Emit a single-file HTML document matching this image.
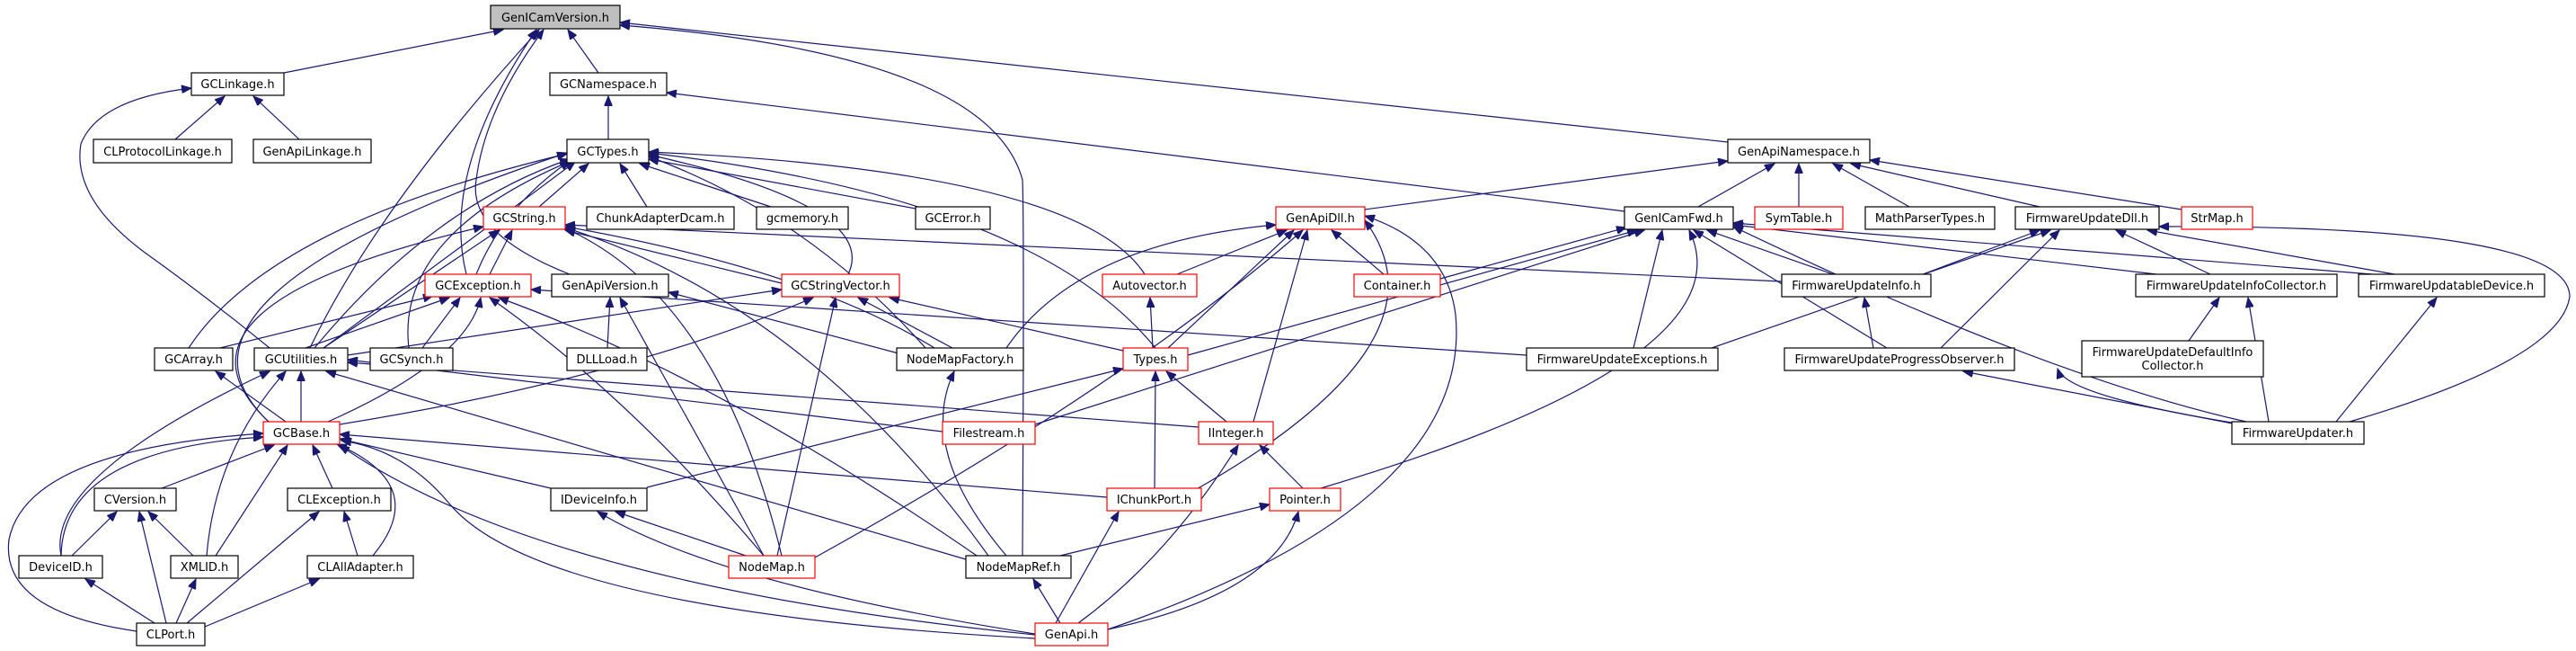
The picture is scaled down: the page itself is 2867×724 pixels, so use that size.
<!DOCTYPE html>
<html><head><meta charset="utf-8"><style>
html,body{margin:0;padding:0;background:#fff;}
svg{display:block;}
text{font-family:"DejaVu Sans","Liberation Sans",sans-serif;font-size:13px;fill:#000;text-anchor:middle;}
.n{fill:#fff;stroke:#000;stroke-width:1.2;}
.r{fill:#fff;stroke:#ff0000;stroke-width:1.2;}
.e{fill:none;stroke:#191970;stroke-width:1.2;marker-end:url(#a);}
</style></head><body>
<svg width="2867" height="724" viewBox="0 0 2867 724" xmlns="http://www.w3.org/2000/svg">
<defs><marker id="a" markerUnits="userSpaceOnUse" markerWidth="12" markerHeight="9" refX="11" refY="4.5" orient="auto"><path d="M0,0 L11,4.5 L0,9 z" fill="#191970" stroke="#191970"/></marker></defs>
<g>
<!-- edges to GenICamVersion -->
<path class="e" d="M316,81 L560,33"/>
<path class="e" d="M666,81 L632,33"/>
<path class="e" d="M345,387 Q420,230 600,33"/>
<path class="e" d="M519,305 Q490,190 597,33"/>
<path class="e" d="M634,305 Q520,260 530,200 Q540,120 605,33"/>
<path class="e" d="M1138,618 Q1140,250 1138,200 Q1100,60 690,28"/>
<path class="e" d="M1923,158 L690,25"/>
<!-- GCNamespace / GCLinkage -->
<path class="e" d="M677,155 L677,107"/>
<path class="e" d="M1808,235 L742,103"/>
<path class="e" d="M195,155 L250,107"/>
<path class="e" d="M333,155 L282,107"/>
<path class="e" d="M300,387 Q230,330 160,280 Q80,220 90,160 Q110,110 213,98"/>
<!-- GCTypes -->
<path class="e" d="M600,230 L655,182"/>
<path class="e" d="M720,230 L690,182"/>
<path class="e" d="M858,230 L712,182"/>
<path class="e" d="M1019,232 L722,177"/>
<path class="e" d="M944,305 Q980,230 722,172"/>
<path class="e" d="M1274,305 Q1200,190 722,169"/>
<path class="e" d="M1286,387 Q1150,220 722,170"/>
<path class="e" d="M1030,387 Q900,240 722,174"/>
<path class="e" d="M210,387 Q300,250 631,171"/>
<path class="e" d="M300,470 Q150,330 631,170"/>
<path class="e" d="M455,387 Q440,260 640,177"/>
<path class="e" d="M530,305 Q560,230 634,179"/>
<path class="e" d="M350,387 Q480,230 634,177"/>
<path class="e" d="M360,387 Q560,240 640,180"/>
<!-- GenApiNamespace -->
<path class="e" d="M1519,233 L1923,179"/>
<path class="e" d="M1890,230 L1975,182"/>
<path class="e" d="M2002,230 L2002,182"/>
<path class="e" d="M2125,230 L2040,182"/>
<path class="e" d="M2270,230 L2060,182"/>
<path class="e" d="M2428,233 L2081,178"/>
<!-- GCString -->
<path class="e" d="M545,305 L570,256"/>
<path class="e" d="M360,387 L555,256"/>
<path class="e" d="M300,470 Q160,340 538,252"/>
<path class="e" d="M870,315 L629,256"/>
<path class="e" d="M870,618 Q800,330 629,254"/>
<path class="e" d="M1100,618 Q900,340 629,253"/>
<path class="e" d="M1040,387 Q900,300 629,252"/>
<path class="e" d="M1983,313 L629,250"/>
<!-- GCException -->
<path class="e" d="M340,387 L500,331"/>
<path class="e" d="M245,387 L482,329"/>
<path class="e" d="M470,387 L512,331"/>
<path class="e" d="M365,469 Q520,400 535,331"/>
<path class="e" d="M850,618 Q700,440 545,331"/>
<path class="e" d="M1090,620 Q800,420 555,331"/>
<path class="e" d="M1699,395 L591,322"/>
<!-- GenApiVersion -->
<path class="e" d="M676,387 L679,331"/>
<path class="e" d="M850,618 L690,331"/>
<path class="e" d="M1000,393 L744,325"/>
<!-- GCStringVector -->
<path class="e" d="M387,395 L870,322"/>
<path class="e" d="M378,472 Q700,420 905,331"/>
<path class="e" d="M865,618 L930,331"/>
<path class="e" d="M1060,387 L955,331"/>
<path class="e" d="M1250,390 L990,331"/>
<!-- Autovector / GenApiDll -->
<path class="e" d="M1283,387 L1280,331"/>
<path class="e" d="M1310,305 L1432,256"/>
<path class="e" d="M1120,387 Q1200,270 1420,250"/>
<path class="e" d="M1300,387 L1440,256"/>
<path class="e" d="M1540,305 L1482,256"/>
<path class="e" d="M1395,469 L1455,256"/>
<path class="e" d="M907,620 Q1250,430 1450,256"/>
<path class="e" d="M1330,545 Q1620,380 1519,245"/>
<path class="e" d="M1233,700 Q1640,560 1620,350 Q1610,270 1519,240"/>
<!-- GenICamFwd -->
<path class="e" d="M1322,395 L1822,256"/>
<path class="e" d="M1152,472 L1830,256"/>
<path class="e" d="M1603,310 L1810,253"/>
<path class="e" d="M1818,387 L1850,256"/>
<path class="e" d="M2040,305 L1900,256"/>
<path class="e" d="M2100,387 L1885,256"/>
<path class="e" d="M1470,543 Q1950,400 1880,256"/>
<path class="e" d="M2400,305 L1929,250"/>
<path class="e" d="M2640,305 L1929,248"/>
<path class="e" d="M2500,469 Q2280,420 1929,252"/>
<!-- FirmwareUpdateDll -->
<path class="e" d="M2140,305 L2270,256"/>
<path class="e" d="M2160,387 L2292,256"/>
<path class="e" d="M1905,387 L2282,256"/>
<path class="e" d="M2460,305 L2355,256"/>
<path class="e" d="M2665,305 L2390,256"/>
<path class="e" d="M2615,469 Q2850,400 2860,330 Q2860,250 2403,252"/>
<path class="e" d="M2085,387 L2075,331"/>
<path class="e" d="M2436,379 L2470,331"/>
<path class="e" d="M2525,469 L2502,331"/>
<path class="e" d="M2600,469 L2712,331"/>
<path class="e" d="M2490,472 L2185,413"/>
<path class="e" d="M2484,470 Q2300,440 2290,410"/>
<!-- Types / IInteger / IChunkPort / Pointer -->
<path class="e" d="M1365,469 L1298,413"/>
<path class="e" d="M1285,543 L1286,413"/>
<path class="e" d="M720,542 L1250,410"/>
<path class="e" d="M1450,543 L1402,495"/>
<path class="e" d="M1200,693 Q1300,620 1378,495"/>
<path class="e" d="M1175,693 L1245,569"/>
<path class="e" d="M1180,618 L1413,561"/>
<path class="e" d="M1233,700 Q1420,660 1445,569"/>
<path class="e" d="M1180,693 L1150,644"/>
<path class="e" d="M1120,618 Q1020,500 1062,413"/>
<!-- GCUtilities / GCBase -->
<path class="e" d="M1334,475 L387,403"/>
<path class="e" d="M1049,480 L387,400"/>
<path class="e" d="M1232,553 L378,483"/>
<path class="e" d="M613,543 L378,488"/>
<path class="e" d="M335,469 L335,413"/>
<path class="e" d="M68,618 Q50,530 300,413"/>
<path class="e" d="M230,618 Q240,500 318,413"/>
<path class="e" d="M1085,625 L363,413"/>
<path class="e" d="M318,469 L240,413"/>
<path class="e" d="M180,543 L305,495"/>
<path class="e" d="M240,618 L320,495"/>
<path class="e" d="M370,543 L348,495"/>
<path class="e" d="M415,618 Q480,540 375,494"/>
<path class="e" d="M68,618 Q70,500 293,486"/>
<path class="e" d="M152,702 Q0,680 10,600 Q30,500 293,482"/>
<path class="e" d="M1152,710 Q600,680 500,560 Q450,500 380,490"/>
<path class="e" d="M1152,706 Q600,650 378,495"/>
<!-- bottom -->
<path class="e" d="M80,618 L130,569"/>
<path class="e" d="M215,618 L165,569"/>
<path class="e" d="M185,693 L155,569"/>
<path class="e" d="M196,693 L218,644"/>
<path class="e" d="M172,693 L95,644"/>
<path class="e" d="M208,693 L355,569"/>
<path class="e" d="M398,618 L383,569"/>
<path class="e" d="M228,697 L355,644"/>
<path class="e" d="M830,618 L685,569"/>
<path class="e" d="M1152,705 Q800,650 665,569"/>
</g>
<g>
<rect x="546" y="6" width="144" height="26" fill="#bfbfbf" stroke="#000" stroke-width="1.2"/><text x="618" y="24">GenICamVersion.h</text>
<rect class="n" x="213" y="81" width="103" height="25"/><text x="264.5" y="98">GCLinkage.h</text>
<rect class="n" x="612" y="81" width="130" height="25"/><text x="677" y="98">GCNamespace.h</text>
<rect class="n" x="104" y="155" width="154" height="26"/><text x="181" y="173">CLProtocolLinkage.h</text>
<rect class="n" x="282" y="155" width="131" height="26"/><text x="347.5" y="173">GenApiLinkage.h</text>
<rect class="n" x="631" y="155" width="91" height="26"/><text x="676.5" y="173">GCTypes.h</text>
<rect class="n" x="1923" y="155" width="158" height="26"/><text x="2002" y="173">GenApiNamespace.h</text>
<rect class="r" x="538" y="230" width="91" height="25"/><text x="583.5" y="247">GCString.h</text>
<rect class="n" x="653" y="230" width="164" height="25"/><text x="735" y="247">ChunkAdapterDcam.h</text>
<rect class="n" x="842" y="230" width="102" height="25"/><text x="893" y="247">gcmemory.h</text>
<rect class="n" x="1019" y="230" width="83" height="25"/><text x="1060.5" y="247">GCError.h</text>
<rect class="r" x="1420" y="230" width="99" height="25"/><text x="1469.5" y="247">GenApiDll.h</text>
<rect class="n" x="1808" y="230" width="121" height="25"/><text x="1868.5" y="247">GenICamFwd.h</text>
<rect class="r" x="1953" y="230" width="98" height="25"/><text x="2002" y="247">SymTable.h</text>
<rect class="n" x="2076" y="230" width="144" height="25"/><text x="2148" y="247">MathParserTypes.h</text>
<rect class="n" x="2243" y="230" width="160" height="25"/><text x="2323" y="247">FirmwareUpdateDll.h</text>
<rect class="r" x="2428" y="230" width="79" height="25"/><text x="2467.5" y="247">StrMap.h</text>
<rect class="r" x="473" y="305" width="118" height="25"/><text x="532" y="322">GCException.h</text>
<rect class="n" x="614" y="305" width="130" height="25"/><text x="679" y="322">GenApiVersion.h</text>
<rect class="r" x="870" y="305" width="131" height="25"/><text x="935.5" y="322">GCStringVector.h</text>
<rect class="r" x="1227" y="305" width="105" height="25"/><text x="1279.5" y="322">Autovector.h</text>
<rect class="r" x="1507" y="305" width="96" height="25"/><text x="1555" y="322">Container.h</text>
<rect class="n" x="1983" y="305" width="166" height="25"/><text x="2066" y="322">FirmwareUpdateInfo.h</text>
<rect class="n" x="2377" y="305" width="224" height="25"/><text x="2489" y="322">FirmwareUpdateInfoCollector.h</text>
<rect class="n" x="2625" y="305" width="207" height="25"/><text x="2728.5" y="322">FirmwareUpdatableDevice.h</text>
<rect class="n" x="172" y="387" width="87" height="25"/><text x="215.5" y="404">GCArray.h</text>
<rect class="n" x="283" y="387" width="104" height="25"/><text x="335" y="404">GCUtilities.h</text>
<rect class="n" x="412" y="387" width="92" height="25"/><text x="458" y="404">GCSynch.h</text>
<rect class="n" x="631" y="387" width="89" height="25"/><text x="675.5" y="404">DLLLoad.h</text>
<rect class="n" x="998" y="387" width="141" height="25"/><text x="1068.5" y="404">NodeMapFactory.h</text>
<rect class="r" x="1250" y="387" width="72" height="25"/><text x="1286" y="404">Types.h</text>
<rect class="n" x="1699" y="387" width="213" height="25"/><text x="1805.5" y="404">FirmwareUpdateExceptions.h</text>
<rect class="n" x="1986" y="387" width="256" height="25"/><text x="2114" y="404">FirmwareUpdateProgressObserver.h</text>
<rect class="n" x="2317" y="379" width="202" height="40"/><text x="2418" y="396">FirmwareUpdateDefaultInfo</text><text x="2418" y="411">Collector.h</text>
<rect class="r" x="293" y="469" width="85" height="25"/><text x="335.5" y="486">GCBase.h</text>
<rect class="r" x="1049" y="469" width="103" height="25"/><text x="1100.5" y="486">Filestream.h</text>
<rect class="r" x="1334" y="469" width="83" height="25"/><text x="1375.5" y="486">IInteger.h</text>
<rect class="n" x="2484" y="469" width="147" height="25"/><text x="2557.5" y="486">FirmwareUpdater.h</text>
<rect class="n" x="105" y="543" width="91" height="25"/><text x="150.5" y="560">CVersion.h</text>
<rect class="n" x="320" y="543" width="115" height="25"/><text x="377.5" y="560">CLException.h</text>
<rect class="n" x="613" y="543" width="107" height="25"/><text x="666.5" y="560">IDeviceInfo.h</text>
<rect class="r" x="1232" y="543" width="105" height="25"/><text x="1284.5" y="560">IChunkPort.h</text>
<rect class="r" x="1413" y="543" width="79" height="25"/><text x="1452.5" y="560">Pointer.h</text>
<rect class="n" x="21" y="618" width="93" height="25"/><text x="67.5" y="635">DeviceID.h</text>
<rect class="n" x="190" y="618" width="75" height="25"/><text x="227.5" y="635">XMLID.h</text>
<rect class="n" x="342" y="618" width="118" height="25"/><text x="401" y="635">CLAllAdapter.h</text>
<rect class="r" x="811" y="618" width="96" height="25"/><text x="859" y="635">NodeMap.h</text>
<rect class="n" x="1075" y="618" width="117" height="25"/><text x="1133.5" y="635">NodeMapRef.h</text>
<rect class="n" x="152" y="693" width="76" height="25"/><text x="190" y="710">CLPort.h</text>
<rect class="r" x="1152" y="693" width="81" height="25"/><text x="1192.5" y="710">GenApi.h</text>
</g>
</svg>
</body></html>
